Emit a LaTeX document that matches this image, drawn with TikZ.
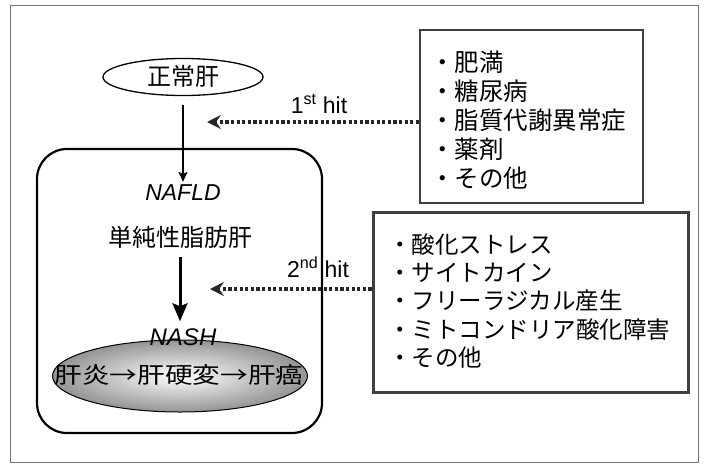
\documentclass[tikz,border=0pt]{standalone}
\usepackage{fontspec}
\setmainfont{Liberation Sans}
\newfontfamily\jp{Noto Sans CJK JP}
\usetikzlibrary{arrows.meta,shapes.geometric}
\begin{document}
\begin{tikzpicture}[x=1pt,y=-1pt,
  jptext/.style={font=\jp\fontsize{24}{28}\selectfont, inner sep=0pt},
  latin/.style={font=\fontsize{23}{26}\selectfont, inner sep=0pt},
  hitarrow/.style={line width=3.2pt, black!85, dash pattern=on 3.2pt off 2.4pt,
     -{Stealth[length=14pt,width=14pt,inset=5pt]}},
  listbox/.style={draw=black!75, line width=2pt, inner sep=0pt},
  listtext/.style={align=left, inner sep=0pt, anchor=west}
]
\useasboundingbox (0,0) rectangle (706,463);
% outer frame
\draw[black!55, line width=1pt] (10,5) rectangle (698,462);

% normal liver ellipse
\node[draw, ellipse, line width=1.3pt, minimum width=160pt, minimum height=37pt, inner sep=0pt] (zhk) at (183,77) {};
\node[jptext] (zhkt) at (183,76) {正常肝};

% NAFLD rounded container
\node[draw, line width=2.2pt, rounded corners=30pt, minimum width=285pt, minimum height=284pt, inner sep=0pt] (cont) at (179.5,291) {};
\node[latin, font=\itshape\fontsize{23}{26}\selectfont] (nafld) at (183,193) {NAFLD};
\node[jptext] (simple) at (180,237) {単純性脂肪肝};

% NASH ellipse
\node[draw, ellipse, line width=1pt, minimum width=255pt, minimum height=72pt, inner sep=0pt,
      inner color=white, outer color=black!42, shading=radial] (nashe) at (180,376) {};
\node[latin, font=\itshape\fontsize{24}{26}\selectfont] (nash) at (183,337) {NASH};
\node[jptext, font=\jp\fontsize{22.5}{26}\selectfont] (prog) at (179,375) {\scalebox{1.23}[1]{肝炎→肝硬変→肝癌}};

% vertical arrows
\draw[line width=1.6pt, -{Stealth[length=10pt,width=9pt,inset=2pt]}, shorten <=9pt, shorten >=3pt] (zhk.south) -- (zhk.south |- nafld.north);
\draw[line width=3pt, -{Stealth[length=18pt,width=15pt,inset=3pt]}, shorten <=9pt, shorten >=7pt] (simple.south) -- (simple.south |- nash.north);

% list boxes
\node[listbox, minimum width=223pt, minimum height=173pt] (box1) at (531.5,116.5) {};
\node[listtext, font=\jp\fontsize{24.5}{29}\selectfont] (list1) at (430,120) {・肥満\\・糖尿病\\・脂質代謝異常症\\・薬剤\\・その他};
\node[listbox, line width=3pt, minimum width=315pt, minimum height=180pt] (box2) at (530.5,302) {};
\node[listtext, font=\jp\fontsize{23.5}{28.2}\selectfont] (list2) at (388,301) {・酸化ストレス\\・サイトカイン\\・フリーラジカル産生\\・ミトコンドリア酸化障害\\・その他};

% hit arrows
\coordinate (tip1) at (207,122);
\coordinate (tip2) at (210,289);
\draw[hitarrow] (box1.west |- tip1) -- (tip1);
\draw[hitarrow] (box2.west |- tip2) -- (tip2);
\node[latin] (hit1) at (319,104) {1\textsuperscript{st} hit};
\node[latin] (hit2) at (318,267) {2\textsuperscript{nd} hit};
\end{tikzpicture}
\end{document}
